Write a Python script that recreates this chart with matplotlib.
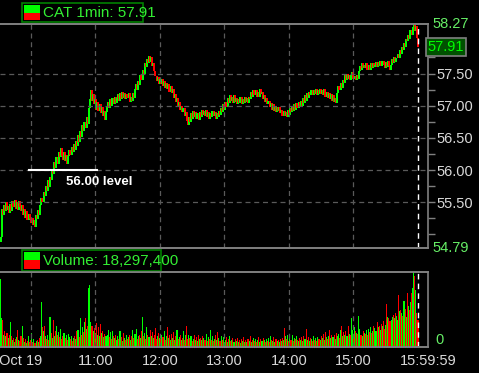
import numpy as np
import matplotlib
matplotlib.use("Agg")
import matplotlib.pyplot as plt
from matplotlib.patches import Rectangle

# CAT 1-minute closes, 9:31 .. 16:00 (10 minutes per row)
closes = [
    54.88, 54.96, 55.40, 55.30, 55.46, 55.36, 55.50, 55.38, 55.44, 55.34,
    55.48, 55.36, 55.52, 55.42, 55.54, 55.40, 55.50, 55.38, 55.52, 55.42,
    55.36, 55.46, 55.30, 55.40, 55.26, 55.36, 55.22, 55.32, 55.24, 55.18,
    55.26, 55.14, 55.22, 55.12, 55.30, 55.24, 55.38, 55.30, 55.46, 55.56,
    55.50, 55.66, 55.60, 55.76, 55.68, 55.84, 55.74, 55.90, 55.84, 56.00,
    55.94, 56.12, 56.04, 56.20, 56.10, 56.28, 56.20, 56.34, 56.22, 56.16,
    56.28, 56.14, 56.24, 56.10, 56.22, 56.32, 56.24, 56.36, 56.28, 56.40,
    56.32, 56.46, 56.38, 56.54, 56.44, 56.60, 56.52, 56.70, 56.60, 56.74,
    56.66, 56.82, 56.72, 56.96, 57.10, 57.24, 57.08, 57.18, 57.02, 57.10,
    56.94, 57.06, 56.92, 57.02, 56.88, 56.98, 56.84, 56.92, 56.78, 56.90,
    56.98, 57.06, 56.96, 57.10, 57.00, 57.12, 57.02, 57.14, 57.04, 57.12,
    57.18, 57.08, 57.20, 57.10, 57.22, 57.12, 57.20, 57.10, 57.18, 57.12,
    57.20, 57.06, 57.14, 57.08, 57.20, 57.12, 57.26, 57.34, 57.24, 57.38,
    57.32, 57.48, 57.40, 57.56, 57.50, 57.66, 57.60, 57.72, 57.66, 57.78,
    57.68, 57.76, 57.62, 57.66, 57.54, 57.46, 57.38, 57.44, 57.34, 57.42,
    57.34, 57.42, 57.30, 57.38, 57.28, 57.36, 57.26, 57.34, 57.22, 57.30,
    57.20, 57.26, 57.12, 57.18, 57.06, 57.12, 56.98, 57.06, 56.94, 57.00,
    56.90, 56.96, 56.84, 56.90, 56.76, 56.70, 56.82, 56.74, 56.88, 56.80,
    56.92, 56.82, 56.90, 56.80, 56.88, 56.78, 56.90, 56.82, 56.94, 56.86,
    56.92, 56.84, 56.94, 56.82, 56.90, 56.80, 56.88, 56.82, 56.92, 56.84,
    56.90, 56.80, 56.88, 56.82, 56.92, 56.86, 56.96, 56.90, 57.02, 56.94,
    57.06, 56.98, 57.12, 57.04, 57.16, 57.08, 57.14, 57.04, 57.16, 57.06,
    57.12, 57.02, 57.10, 57.04, 57.14, 57.02, 57.10, 57.04, 57.14, 57.06,
    57.12, 57.04, 57.14, 57.10, 57.22, 57.14, 57.24, 57.16, 57.24, 57.14,
    57.22, 57.14, 57.26, 57.18, 57.22, 57.10, 57.16, 57.06, 57.12, 57.02,
    57.08, 56.98, 57.04, 56.94, 57.02, 56.92, 57.00, 56.90, 56.98, 56.92,
    56.98, 56.88, 56.94, 56.84, 56.92, 56.84, 56.90, 56.82, 56.94, 56.86,
    56.96, 56.90, 57.00, 56.92, 57.02, 56.94, 57.04, 56.96, 57.06, 57.00,
    57.08, 57.00, 57.12, 57.04, 57.16, 57.08, 57.20, 57.12, 57.22, 57.16,
    57.24, 57.16, 57.24, 57.18, 57.26, 57.16, 57.24, 57.18, 57.26, 57.18,
    57.24, 57.16, 57.26, 57.14, 57.22, 57.12, 57.20, 57.10, 57.18, 57.08,
    57.16, 57.06, 57.12, 57.04, 57.20, 57.30, 57.24, 57.36, 57.28, 57.40,
    57.36, 57.48, 57.40, 57.50, 57.42, 57.48, 57.40, 57.48, 57.52, 57.42,
    57.46, 57.40, 57.48, 57.42, 57.54, 57.62, 57.56, 57.66, 57.58, 57.64,
    57.58, 57.66, 57.56, 57.64, 57.56, 57.66, 57.58, 57.66, 57.60, 57.64,
    57.68, 57.60, 57.68, 57.62, 57.70, 57.62, 57.70, 57.64, 57.58, 57.68,
    57.60, 57.70, 57.62, 57.56, 57.64, 57.72, 57.66, 57.76, 57.68, 57.74,
    57.80, 57.74, 57.86, 57.80, 57.92, 57.86, 57.98, 57.92, 58.04, 58.00,
    58.10, 58.04, 58.18, 58.10, 58.22, 58.26, 58.16, 58.24, 58.06, 57.91,
]

# volume per minute, thousands of shares
volume = [
    60, 380, 160, 150, 70, 90, 60, 80, 50, 70,
    140, 60, 40, 50, 30, 45, 55, 95, 40, 35,
    60, 120, 50, 30, 45, 25, 35, 60, 30, 40,
    80, 30, 45, 25, 35, 40, 30, 50, 60, 250,
    110, 90, 120, 60, 45, 70, 40, 170, 80, 50,
    150, 60, 90, 120, 70, 85, 55, 100, 45, 60,
    80, 50, 65, 40, 75, 55, 45, 60, 35, 50,
    60, 45, 90, 95, 55, 160, 70, 110, 85, 140,
    165, 100, 120, 330, 345, 140, 120, 90, 105, 80,
    135, 70, 110, 60, 130, 80, 90, 55, 75, 60,
    70, 95, 55, 85, 45, 90, 60, 50, 70, 40,
    60, 45, 90, 55, 35, 80, 50, 40, 65, 45,
    55, 70, 40, 60, 95, 50, 75, 100, 45, 60,
    70, 50, 90, 170, 60, 80, 45, 110, 65, 55,
    95, 60, 85, 50, 70, 105, 45, 60, 80, 50,
    45, 70, 55, 90, 40, 60, 110, 50, 65, 40,
    75, 50, 85, 40, 60, 95, 45, 55, 70, 40,
    50, 90, 40, 65, 115, 45, 70, 50, 60, 35,
    45, 65, 40, 55, 35, 70, 45, 50, 40, 60,
    50, 40, 75, 35, 55, 45, 95, 40, 60, 35,
    45, 65, 40, 85, 50, 35, 60, 40, 55, 30,
    40, 55, 30, 45, 60, 35, 40, 50, 30, 45,
    35, 50, 30, 40, 25, 45, 35, 55, 30, 40,
    30, 45, 35, 60, 30, 40, 50, 35, 45, 30,
    40, 55, 30, 45, 35, 50, 40, 30, 45, 35,
    50, 30, 60, 40, 35, 55, 30, 45, 35, 40,
    30, 45, 35, 50, 40, 105, 60, 45, 70, 35,
    55, 40, 65, 35, 50, 45, 60, 40, 35, 50,
    40, 55, 35, 60, 45, 100, 40, 55, 35, 50,
    45, 35, 60, 40, 50, 35, 55, 45, 40, 60,
    50, 75, 40, 85, 55, 45, 60, 95, 50, 65,
    55, 70, 45, 80, 60, 75, 50, 95, 115, 60,
    85, 70, 90, 60, 120, 75, 65, 160, 95, 70,
    110, 90, 80, 75, 175, 100, 70, 60, 90, 80,
    75, 95, 70, 100, 85, 110, 80, 90, 120, 105,
    90, 140, 110, 120, 95, 130, 115, 145, 100, 125,
    240, 170, 160, 145, 150, 170, 180, 165, 190, 175,
    150, 290, 200, 205, 190, 175, 260, 215, 170, 305,
    230, 210, 250, 300, 330, 420, 400, 320, 190, 150,
]

hour_ticks = [90, 150, 210, 270, 330]
hour_labels = ["11:00", "12:00", "13:00", "14:00", "15:00"]
price_labels = [55.5, 56.0, 56.5, 57.0, 57.5]
price_minor = [55.0, 55.25, 55.75, 56.25, 56.75, 57.25, 57.75, 58.0]
y_low, y_high = 54.79, 58.27
last_price = 57.91

W, H = 479, 373
GREEN = "#00ff00"
RED = "#ff0000"
TXT_GREEN = "#66ee66"
GRAY = "#808080"
GRID = "#5a5a5a"

plt.rcParams["font.family"] = ["Liberation Sans Narrow", "Liberation Sans", "DejaVu Sans"]

minutes = np.arange(1, len(closes) + 1)
closes = np.array(closes)
opens = np.concatenate([[closes[0]], closes[:-1]])
up = closes >= opens
colors = np.where(up, GREEN, RED)
lo = np.minimum(opens, closes)
hi = np.maximum(opens, closes)
hi = np.maximum(hi, lo + 0.012)

fig = plt.figure(figsize=(W / 100, H / 100), dpi=100, facecolor="black")


def fx(x):
    return x / W


def fy(y):
    return 1 - y / H


ax = fig.add_axes([0, fy(248), fx(428), fy(24) - fy(248)], facecolor="black")
axv = fig.add_axes([0, fy(347), fx(428), fy(272) - fy(347)], facecolor="black")

xmin, xmax = 1.5, 399.3

# price panel
ax.vlines(minutes, lo, hi, colors=colors, linewidth=1.1, antialiased=False)
ax.set_xlim(xmin, xmax)
ax.set_ylim(y_low, y_high)
for t in [30] + hour_ticks:
    ax.axvline(t, color=GRID, ls=(0, (4, 3)), lw=0.9)
for p in price_labels:
    ax.axhline(p, color=GRID, ls=(0, (4, 3)), lw=0.9)
ax.axvline(390, color="white", ls=(0, (4, 3)), lw=1)
ax.plot([28.5, 91.5], [56.0, 56.0], color="white", lw=1.5)
ax.text(63, 55.82, "56.00 level", color="white", fontsize=9.5, fontweight="bold",
        family="Liberation Sans", ha="left", va="center")

ax.yaxis.tick_right()
ax.set_yticks(price_labels)
ax.set_yticklabels(["%.2f" % p for p in price_labels])
ax.set_yticks(price_minor, minor=True)
ax.tick_params(axis="y", which="both", colors=GRAY, length=5, width=1, pad=1,
               labelcolor="#d8d8d8", labelsize=10.5)
ax.set_xticks([])
ax.spines["left"].set_visible(False)
for s in ["top", "bottom", "right"]:
    ax.spines[s].set_color(GRAY)
    ax.spines[s].set_linewidth(1.2)

ax.text(1.01, 1.0, "%.2f" % y_high, transform=ax.transAxes, color=TXT_GREEN,
        fontsize=10.5, ha="left", va="center")
ax.text(1.01, 0.0, "%.2f" % y_low, transform=ax.transAxes, color=TXT_GREEN,
        fontsize=10.5, ha="left", va="center")
ax.text(fx(446), fy(47), "%.2f" % last_price, transform=fig.transFigure, color=GREEN,
        fontsize=10.5, ha="center", va="center",
        bbox=dict(boxstyle="square,pad=0.15", fc="#005000", ec=GRAY, lw=1.2))

# volume panel
axv.bar(minutes, volume, width=1.0, color=colors, linewidth=0, antialiased=False)
axv.set_xlim(xmin, xmax)
axv.set_ylim(0, max(volume))
for t in [30] + hour_ticks:
    axv.axvline(t, color=GRID, ls=(0, (4, 3)), lw=0.9)
axv.axvline(390, color="white", ls=(0, (4, 3)), lw=1)
axv.spines["left"].set_visible(False)
for s in ["top", "bottom", "right"]:
    axv.spines[s].set_color(GRAY)
    axv.spines[s].set_linewidth(1.2)
axv.yaxis.tick_right()
axv.set_yticks([0])
axv.set_yticklabels(["0"])
axv.tick_params(axis="y", colors=GRAY, length=0, pad=5, labelcolor=TXT_GREEN, labelsize=10.5)
for lab in axv.get_yticklabels():
    lab.set_va("bottom")
axv.set_xticks(hour_ticks)
axv.set_xticklabels(hour_labels)
axv.tick_params(axis="x", length=0, pad=5, labelcolor="#d8d8d8", labelsize=10.5)
axv.text(-0.003, -0.09, "Oct 19", transform=axv.transAxes, color="#d8d8d8",
         fontsize=10.5, ha="left", va="top")
axv.text(1.0, -0.09, "15:59:59", transform=axv.transAxes, color="#d8d8d8",
         fontsize=10.5, ha="center", va="top")

# gray separator lines across the full width
for yy in [24, 248, 272, 347]:
    fig.add_artist(plt.Line2D([0, fx(428)], [fy(yy), fy(yy)], color=GRAY, lw=1.2))


def legend_box(x0, y0, x1, y1, label):
    fig.add_artist(Rectangle((fx(x0), fy(y1)), fx(x1 - x0), fy(y0) - fy(y1),
                             transform=fig.transFigure, fc="black", ec="#008000", lw=1.2))
    fig.add_artist(Rectangle((fx(x0 + 2), fy(y0 + 10)), fx(16), fy(y0 + 2) - fy(y0 + 10),
                             transform=fig.transFigure, fc=GREEN, ec="none"))
    fig.add_artist(Rectangle((fx(x0 + 2), fy(y1 - 2)), fx(16), fy(y0 + 10) - fy(y1 - 2),
                             transform=fig.transFigure, fc=RED, ec="none"))
    fig.text(fx(x0 + 21), fy((y0 + y1) / 2 + 0.5), label, color="#33ee33",
             fontsize=11, ha="left", va="center")


legend_box(22, 3, 143, 22, "CAT 1min: %.2f" % last_price)
legend_box(22, 250, 161, 271, "Volume: 18,297,400")

fig.savefig("out.png", dpi=100, facecolor="black")
